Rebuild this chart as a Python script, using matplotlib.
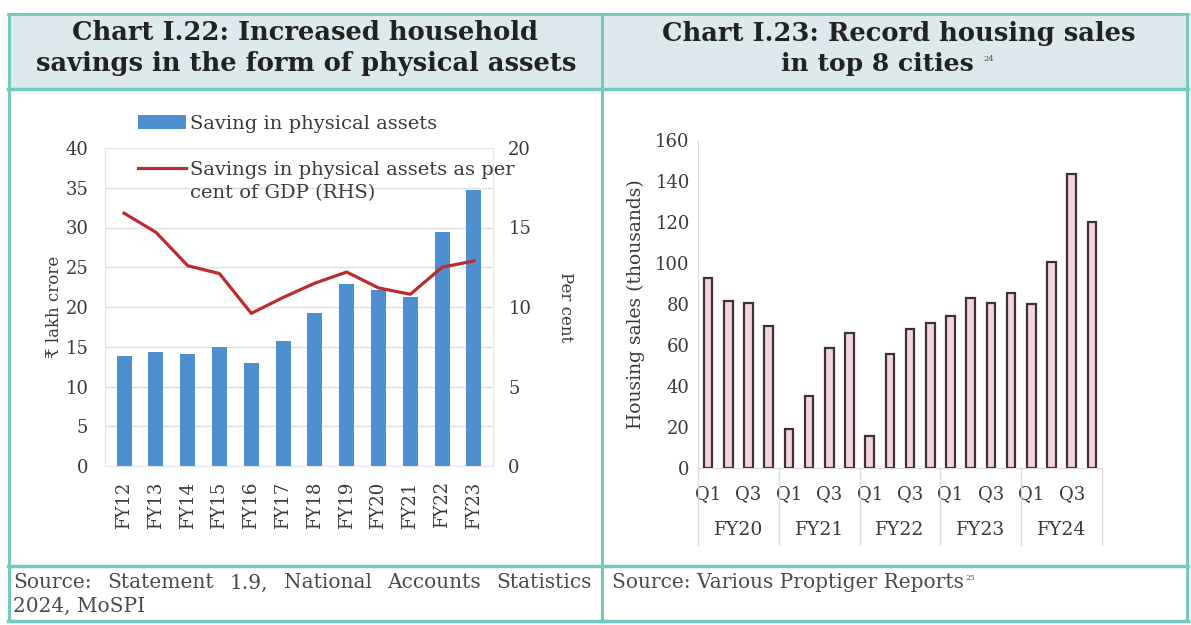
import matplotlib
matplotlib.use("Agg")
import matplotlib.pyplot as plt
from matplotlib.lines import Line2D
from matplotlib.patches import Rectangle
import matplotlib.transforms as mtransforms

# Dados - gráfico I.22
anos = ['FY12', 'FY13', 'FY14', 'FY15', 'FY16', 'FY17', 'FY18', 'FY19', 'FY20', 'FY21', 'FY22', 'FY23']
poupanca = [13.8, 14.4, 14.1, 15.0, 13.0, 15.7, 19.3, 22.9, 22.2, 21.2, 29.4, 34.7]
pct_pib = [15.9, 14.7, 12.6, 12.1, 9.6, 10.6, 11.5, 12.2, 11.2, 10.8, 12.5, 12.9]

# Dados - gráfico I.23
trimestres = ['Q1', 'Q2', 'Q3', 'Q4']
exercicios = ['FY20', 'FY21', 'FY22', 'FY23', 'FY24']
vendas = [92.7, 81.5, 80.5, 69.3,
          19.0, 35.0, 58.5, 66.0,
          15.6, 55.6, 67.8, 70.7,
          74.0, 83.0, 80.5, 85.5,
          80.0, 100.5, 143.4, 120.0]

W, H = 1191, 625
TEAL = '#72c9bd'
SERIF = ['DejaVu Serif']
CINZA = '#3a3a3a'


def fx(px):
    return px / W


def fy(py):
    return 1 - py / H


fig = plt.figure(figsize=(W / 100, H / 100), dpi=100)
fig.patch.set_facecolor('white')

# Cabeçalhos e molduras
fig.add_artist(Rectangle((fx(9), fy(89)), fx(1187) - fx(9), fy(14) - fy(89),
                         transform=fig.transFigure, facecolor='#dde9ec', edgecolor='none', zorder=0))
for y in [14, 89, 566, 621]:
    fig.add_artist(Line2D([fx(8), fx(1188)], [fy(y), fy(y)], transform=fig.transFigure,
                          color=TEAL, lw=2.5 if y != 14 else 2))
for x in [9, 602, 1187]:
    fig.add_artist(Line2D([fx(x), fx(x)], [fy(14), fy(621)], transform=fig.transFigure,
                          color=TEAL, lw=2.2))

tit_kw = dict(family='DejaVu Serif', fontweight='bold', fontsize=18.5, color='#222222',
              ha='center', va='center')
fig.text(fx(305), fy(33), 'Chart I.22: Increased household', **tit_kw)
fig.text(fx(306), fy(64), 'savings in the form of physical assets', **tit_kw)
fig.text(fx(899), fy(33), 'Chart I.23: Record housing sales', **tit_kw)
fig.text(fx(877), fy(64), 'in top 8 cities', fontsize=18, **{k: v for k, v in tit_kw.items() if k != 'fontsize'})
fig.text(fx(983), fy(59), '24', family='DejaVu Serif', fontsize=6, color='#555555',
         ha='left', va='center')

# Notas de rodapé (primeira linha justificada)
nota_kw = dict(family='DejaVu Serif', fontsize=14.5, color='#4a4a4a', va='center')
palavras = ['Source:', 'Statement', '1.9,', 'National', 'Accounts', 'Statistics']
textos = [fig.text(0, fy(583), p, ha='left', **nota_kw) for p in palavras]
rend = fig.canvas.get_renderer()
larguras = [t.get_window_extent(rend).width for t in textos]
x0, x1 = 13, 592
folga = (x1 - x0 - sum(larguras)) / (len(palavras) - 1)
pos = x0
for t, w in zip(textos, larguras):
    t.set_x(fx(pos))
    pos += w + folga
fig.text(fx(13), fy(606), '2024, MoSPI', ha='left', **nota_kw)
fonte_dir = fig.text(fx(612), fy(583), 'Source: Various Proptiger Reports', ha='left', **nota_kw)
fig.text(fx(612) + fonte_dir.get_window_extent(rend).width / W + fx(2), fy(578), '25',
         family='DejaVu Serif', fontsize=5.5, color='#555555', ha='left', va='center')

# Gráfico I.22
ax1 = fig.add_axes([fx(105), fy(466), fx(493) - fx(105), fy(148) - fy(466)])
x1 = range(len(anos))
barras = ax1.bar(x1, poupanca, width=0.47, color='#4d8fd0', label='Saving in physical assets', zorder=2)
ax1.set_ylim(0, 40)
ax1.set_yticks(range(0, 41, 5))
ax1.set_xlim(-0.6, len(anos) - 0.4)
ax1.set_xticks(list(x1))
ax1.set_xticklabels(anos, rotation=90, family=SERIF, fontsize=13, color=CINZA)
ax1.grid(axis='y', color='#e0e0e0', lw=1, zorder=0)
ax1.tick_params(axis='both', length=0, labelsize=13, labelcolor=CINZA)
ax1.tick_params(axis='y', pad=12)
ax1.tick_params(axis='x', pad=11)
for lab in ax1.get_yticklabels():
    lab.set_family(SERIF)
for s in ax1.spines.values():
    s.set_color('#e2e7f0')
ax1.set_ylabel('₹ lakh crore', family=SERIF, fontsize=12, color=CINZA, labelpad=2)

ax2 = ax1.twinx()
linha, = ax2.plot(x1, pct_pib, color='#be2a2e', lw=2.3, zorder=3,
                  label='Savings in physical assets as per cent of GDP (RHS)')
ax2.set_ylim(0, 20)
ax2.set_yticks(range(0, 21, 5))
ax2.tick_params(axis='y', length=0, labelsize=13, labelcolor=CINZA, pad=11)
for lab in ax2.get_yticklabels():
    lab.set_family(SERIF)
for s in ax2.spines.values():
    s.set_visible(False)
ax2.set_ylabel('Per cent', family=SERIF, fontsize=12, color=CINZA, rotation=270,
               labelpad=31)

leg = ax2.legend([barras, linha], ['Saving in physical assets', 'Savings in physical assets as per'],
                 loc='upper left', bbox_to_anchor=(fx(128), fy(105)),
                 bbox_transform=fig.transFigure, frameon=False,
                 prop={'family': SERIF, 'size': 14}, handlelength=2.5,
                 handletextpad=0.2, labelspacing=1.45, labelcolor=CINZA, borderpad=0)
leg.set_zorder(5)
# segunda linha do rótulo da série em linha, alinhada sob a primeira
ax2.annotate('cent of GDP (RHS)', xy=(0, 0), xycoords=leg.get_texts()[1],
             xytext=(0, -4), textcoords='offset points', ha='left', va='top',
             family=SERIF, fontsize=14, color=CINZA, zorder=6)

# Gráfico I.23
ax3 = fig.add_axes([fx(698), fy(468), fx(1102) - fx(698), fy(140) - fy(468)])
x3 = range(len(vendas))
ax3.bar(x3, vendas, width=0.42, color='#f4d5df', edgecolor='#3d3039', lw=1.6, zorder=2)
ax3.set_ylim(0, 160)
ax3.set_yticks(range(0, 161, 20))
ax3.set_xlim(-0.5, len(vendas) - 0.5)
ax3.set_xticks(list(x3))
ax3.set_xticklabels([q if q in ('Q1', 'Q3') else '' for _ in exercicios for q in trimestres],
                    family=SERIF, fontsize=12.5, color=CINZA)
ax3.tick_params(axis='both', length=0, labelsize=13, labelcolor=CINZA)
ax3.tick_params(axis='y', pad=6)
ax3.tick_params(axis='x', pad=12)
for lab in ax3.get_yticklabels():
    lab.set_family(SERIF)
for nome in ['top', 'right']:
    ax3.spines[nome].set_visible(False)
for nome in ['left', 'bottom']:
    ax3.spines[nome].set_color('#dcdcdc')
ax3.set_ylabel('Housing sales (thousands)', family=SERIF, fontsize=13.5, color=CINZA,
               labelpad=7)

trans = mtransforms.blended_transform_factory(ax3.transData, ax3.transAxes)
n = len(trimestres)
for i, nome_fy in enumerate(exercicios):
    ax3.text(i * n + (n - 1) / 2, -0.19, nome_fy, transform=trans, ha='center', va='center',
             family=SERIF, fontsize=13.5, color=CINZA)
for i in range(len(exercicios) + 1):
    ax3.plot([i * n - 0.5] * 2, [0, -0.235], transform=trans, color='#dcdcdc', lw=1,
             clip_on=False)

fig.savefig('out.png', dpi=100)
